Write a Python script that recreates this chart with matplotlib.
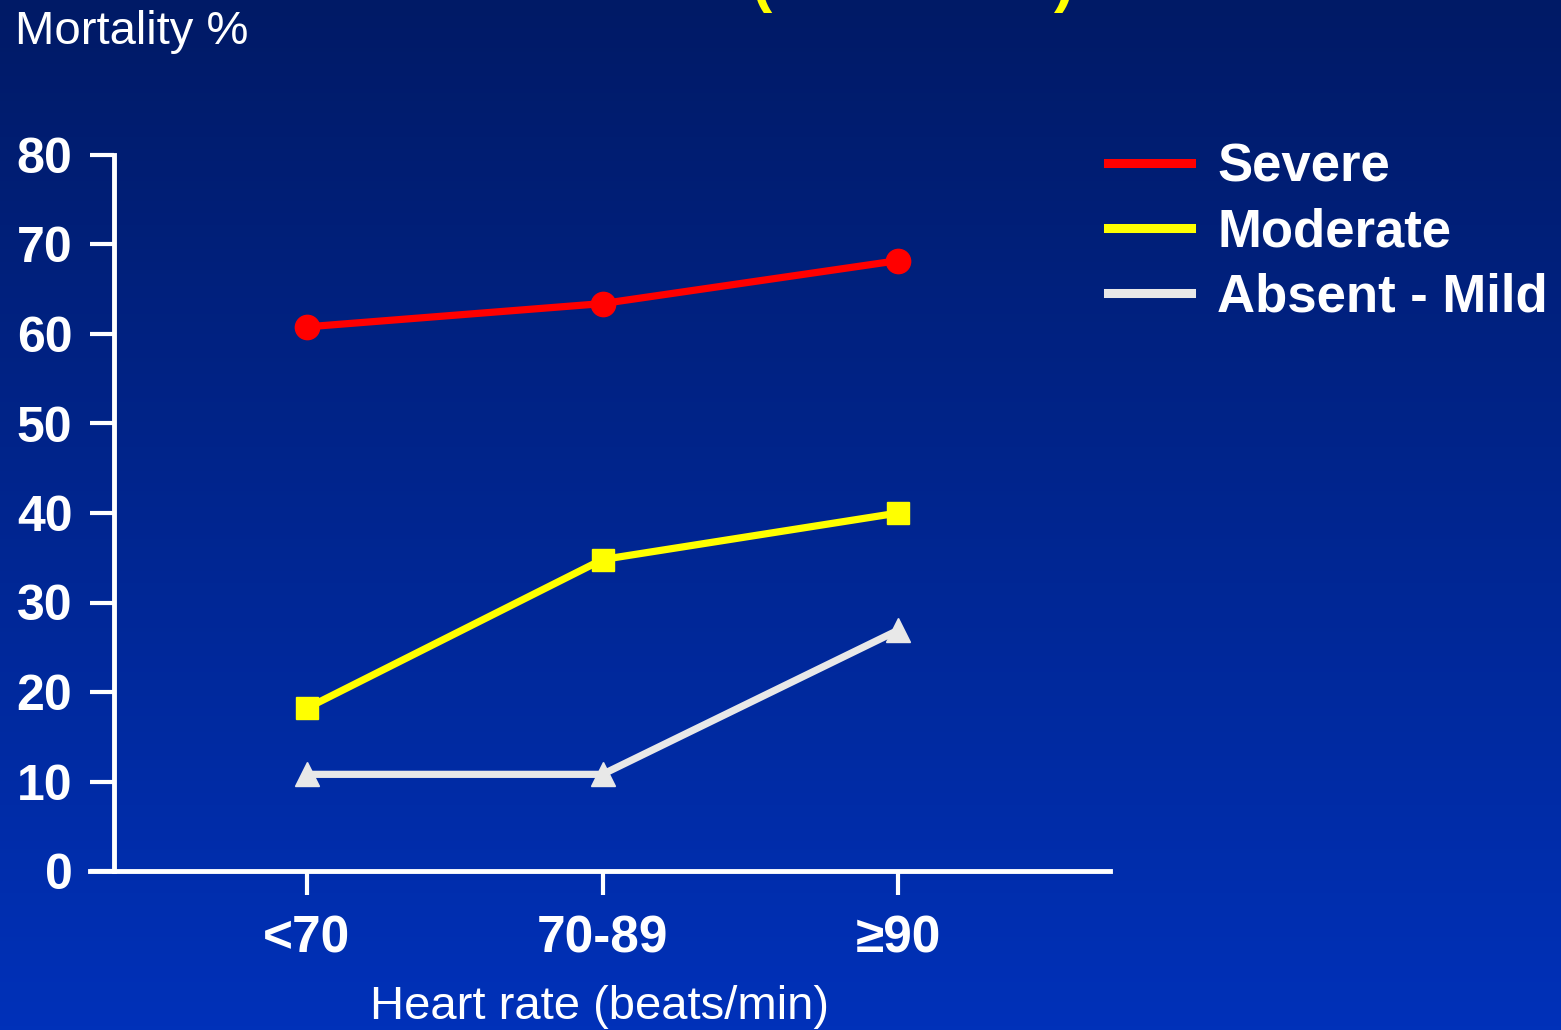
import numpy as np
import matplotlib.pyplot as plt
from matplotlib.lines import Line2D
from matplotlib.colors import LinearSegmentedColormap

plt.rcParams['font.family'] = ['Liberation Sans', 'DejaVu Sans']

# данные с картинки
categories = ['<70', '70-89', '\u226590']
severe = [60.8, 63.4, 68.2]
moderate = [18.2, 34.8, 40.0]
absent_mild = [10.8, 10.8, 26.9]
series_names = ['Severe', 'Moderate', 'Absent - Mild']
yticks = [0, 10, 20, 30, 40, 50, 60, 70, 80]

fig = plt.figure(figsize=(15.61, 10.30), dpi=100)

# градиентный фон
bg = fig.add_axes([0, 0, 1, 1], zorder=-1)
cmap = LinearSegmentedColormap.from_list('bg', ['#001A66', '#0031B9'])
grad = np.linspace(0, 1, 256).reshape(-1, 1)
bg.imshow(grad, cmap=cmap, aspect='auto', extent=[0, 1, 0, 1], origin='upper')
bg.axis('off')

ax = fig.add_axes([90 / 1561, 159 / 1030, 1020 / 1561, 716 / 1030])
ax.set_facecolor('none')

x = np.arange(len(categories))
ax.plot(x, severe, color='#FF0000', lw=5.2, marker='o', ms=17.5, clip_on=False)
ax.plot(x, moderate, color='#FFFF00', lw=5.2, marker='s', ms=16, clip_on=False)
ax.plot(x, absent_mild, color='#E8E8E8', lw=5.2, marker='^', ms=17, clip_on=False)

ax.set_xlim(-0.734, 2.717)
ax.set_ylim(0, 80)
ax.set_xticks(x)
ax.set_xticklabels(categories)
ax.set_yticks(yticks)

for s in ['top', 'right']:
    ax.spines[s].set_visible(False)
ax.spines['left'].set_position(('data', -0.653))
for s in ['left', 'bottom']:
    ax.spines[s].set_color('white')
    ax.spines[s].set_linewidth(3.5)

ax.tick_params(axis='y', colors='white', length=17, width=3, direction='out',
               pad=13, labelsize=36)
ax.tick_params(axis='x', colors='white', length=17, width=3, direction='out',
               pad=14, labelsize=37)
for lbl in ax.get_xticklabels() + ax.get_yticklabels():
    lbl.set_fontweight('bold')

ax.set_xlabel('Heart rate (beats/min)', color='white', fontsize=34, labelpad=16)

fig.text(15 / 1561, 1 - 10 / 1030, 'Mortality %', color='white', fontsize=34,
         ha='left', va='top')

# кусочки заголовка, срезанные сверху
fig.text(762 / 1561, 1.0, '(', color='#FFFF00', fontsize=44, fontweight='bold',
         ha='center', va='baseline')
fig.text(1064 / 1561, 1.0, ')', color='#FFFF00', fontsize=44, fontweight='bold',
         ha='center', va='baseline')

handles = [Line2D([], [], color=c, lw=6.5) for c in ['#FF0000', '#FFFF00', '#E8E8E8']]
leg = fig.legend(handles, series_names, loc='upper left',
                 bbox_to_anchor=(1108 / 1561, 1 - 142 / 1030),
                 frameon=False, fontsize=38, handlelength=1.57,
                 handletextpad=0.5, labelspacing=0.29, borderpad=0,
                 borderaxespad=0)
for t in leg.get_texts():
    t.set_color('white')
    t.set_fontweight('bold')

fig.savefig('out.png', dpi=100)
